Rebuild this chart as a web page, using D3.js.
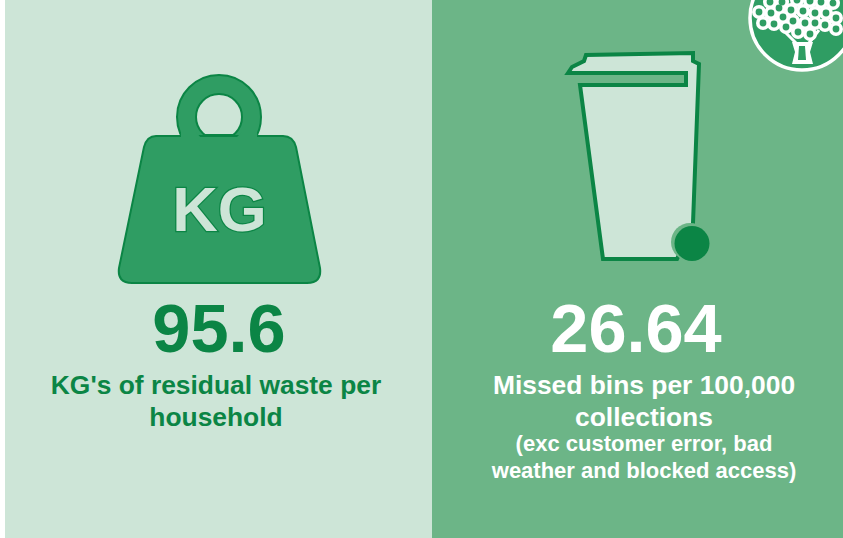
<!DOCTYPE html>
<html>
<head>
<meta charset="utf-8">
<script src="https://cdn.jsdelivr.net/npm/d3@7"></script>
<style>
  html, body { margin: 0; padding: 0; background: #fff; overflow: hidden; }
  text { font-family: "Liberation Sans", Arial, sans-serif; font-weight: bold; text-anchor: middle; }
</style>
</head>
<body>
<div id="visualization"></div>
<script>
const width = 843;
const height = 538;

// picture content
const panels = ["waste", "bins"];
const bigValues = ["95.6", "26.64"];
const labelLines = [
    ["KG's of residual waste per", "household"],
    ["Missed bins per 100,000", "collections"]
];
const noteLines = ["(exc customer error, bad", "weather and blocked access)"];

const darkGreen = "#0b8545";
const midGreen = "#2f9d63";
const panelGreen = "#6cb587";
const paleGreen = "#cde5d7";

const svg = d3.select("#visualization")
    .append("svg")
    .attr("width", width)
    .attr("height", height);

// the two panels sit side by side, white sliver on the far left
const panelX = d3.scaleOrdinal().domain(panels).range([5, 432]);
const panelW = d3.scaleOrdinal().domain(panels).range([427, 411]);
const panelFill = d3.scaleOrdinal().domain(panels).range([paleGreen, panelGreen]);
const valueX = d3.scaleOrdinal().domain(panels).range([219, 636]);
const textX = d3.scaleOrdinal().domain(panels).range([216, 644]);
const textFill = d3.scaleOrdinal().domain(panels).range([darkGreen, "#ffffff"]);

svg.append("g").attr("id", "panels")
    .selectAll("rect")
    .data(panels)
    .enter()
    .append("rect")
    .attr("x", d => panelX(d))
    .attr("y", 0)
    .attr("width", d => panelW(d))
    .attr("height", height)
    .attr("fill", d => panelFill(d));

drawWeight(svg.append("g").attr("id", "weight"));
drawBin(svg.append("g").attr("id", "bin"));
drawTree(svg.append("g").attr("id", "tree"));

// big numbers
svg.append("g").attr("id", "values")
    .selectAll("text")
    .data(panels)
    .enter()
    .append("text")
    .attr("x", d => valueX(d))
    .attr("y", 352)
    .attr("font-size", 68.5)
    .attr("fill", d => textFill(d))
    .text((d, i) => bigValues[i]);

// two line captions
const labels = svg.append("g").attr("id", "labels");
panels.forEach((p, i) => {
    labels.selectAll("text.line" + i)
        .data(labelLines[i])
        .enter()
        .append("text")
        .attr("class", "line" + i)
        .attr("x", textX(p))
        .attr("y", (d, j) => 394 + j * 32)
        .attr("font-size", 26.4)
        .attr("fill", textFill(p))
        .text(d => d);
});

labels.selectAll("text.note")
    .data(noteLines)
    .enter()
    .append("text")
    .attr("class", "note")
    .attr("x", textX("bins"))
    .attr("y", (d, j) => 451 + j * 27)
    .attr("font-size", 22)
    .attr("fill", "#ffffff")
    .text(d => d);

function drawWeight(g) {
    // ring
    g.append("circle")
        .attr("cx", 219)
        .attr("cy", 117)
        .attr("r", 32.5)
        .attr("fill", "none")
        .attr("stroke", darkGreen)
        .attr("stroke-width", 21);
    g.append("circle")
        .attr("cx", 219)
        .attr("cy", 117)
        .attr("r", 32.5)
        .attr("fill", "none")
        .attr("stroke", midGreen)
        .attr("stroke-width", 17);

    // body
    g.append("path")
        .attr("d", "M156,136 L283,136 Q293,136 296,147 L320,268 Q322,283 307,283 L132,283 Q117,283 119,268 L144,147 Q147,136 156,136 Z")
        .attr("fill", midGreen)
        .attr("stroke", darkGreen)
        .attr("stroke-width", 2);

    // ring runs into the body without a seam, the opening keeps a flat floor
    g.append("path")
        .attr("d", "M181,132 L196,132 L201,138 L236,138 L242,132 L257,132 L257,139 L181,139 Z")
        .attr("fill", midGreen);
    g.append("path")
        .attr("d", "M204,135 L234,135")
        .attr("stroke", darkGreen)
        .attr("stroke-width", 2);

    g.append("text")
        .attr("x", 219.5)
        .attr("y", 231)
        .attr("font-size", 63)
        .attr("fill", paleGreen)
        .attr("stroke", darkGreen)
        .attr("stroke-width", 2.5)
        .attr("paint-order", "stroke")
        .text("KG");
}

function drawBin(g) {
    g.append("path")
        .attr("d", "M568,73 L572,67 L584,61 L586,55 L693,53 L693,61 L699,64 L693,223 L677,259 L603,259 L580,85 L686,85 L686,73 Z")
        .attr("fill", paleGreen)
        .attr("stroke", darkGreen)
        .attr("stroke-width", 4)
        .attr("stroke-linejoin", "miter");

    // wheel with its soft shadow
    g.append("circle")
        .attr("cx", 690)
        .attr("cy", 242)
        .attr("r", 19)
        .attr("fill", panelGreen);
    g.append("circle")
        .attr("cx", 692)
        .attr("cy", 243.5)
        .attr("r", 17.5)
        .attr("fill", darkGreen);
}

function drawTree(g) {
    g.append("circle")
        .attr("cx", 802)
        .attr("cy", 18)
        .attr("r", 52)
        .attr("fill", midGreen)
        .attr("stroke", "#ffffff")
        .attr("stroke-width", 3.5);

    // trunk
    g.append("path")
        .attr("d", "M792,42 L813,42 L810,52 L813,64 L792,64 L795,52 Z")
        .attr("fill", "#ffffff");
    g.append("path")
        .attr("d", "M799,46 L805,46 L806,60 L798,60 Z")
        .attr("fill", midGreen);

    // branches
    g.append("path")
        .attr("d", "M796,43 L785,32 M809,43 L819,30")
        .attr("stroke", "#ffffff")
        .attr("stroke-width", 3);

    // foliage rings
    const rings = [
        [759, 12], [771, 13], [779, 8], [763, 23], [774, 24], [783, 17], [786, 27], [793, 21],
        [770, 2], [782, 2], [798, 32], [810, 34], [805, 23], [815, 23], [825, 25], [836, 29],
        [803, 11], [815, 13], [826, 13], [836, 18], [791, 10], [810, 1], [821, 2], [833, 3], [797, 0]
    ];
    g.selectAll("circle.halo")
        .data(rings)
        .enter()
        .append("circle")
        .attr("class", "halo")
        .attr("cx", d => d[0])
        .attr("cy", d => d[1])
        .attr("r", 7)
        .attr("fill", "#ffffff");
    g.selectAll("circle.dot")
        .data(rings)
        .enter()
        .append("circle")
        .attr("class", "dot")
        .attr("cx", d => d[0])
        .attr("cy", d => d[1])
        .attr("r", 3.4)
        .attr("fill", midGreen);
}
</script>
</body>
</html>
